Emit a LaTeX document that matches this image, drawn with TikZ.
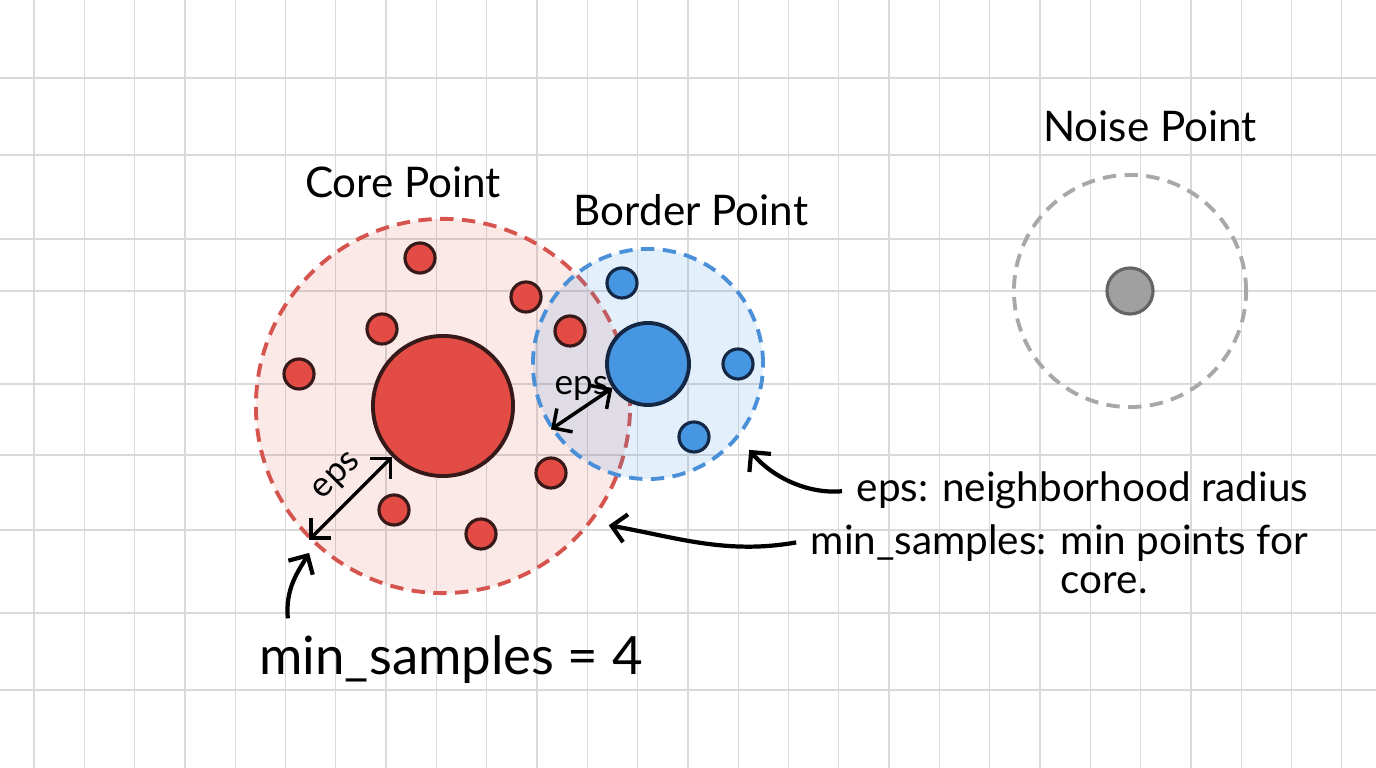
\documentclass[tikz,border=0pt]{standalone}
\usepackage{fontspec}
\setmainfont{Lato}
\usetikzlibrary{positioning,arrows.meta}

\definecolor{coreRed}{RGB}{226,76,68}
\definecolor{coreEdge}{RGB}{55,25,25}
\definecolor{coreDash}{RGB}{214,84,78}
\definecolor{borderBlue}{RGB}{70,150,225}
\definecolor{borderEdge}{RGB}{20,40,70}
\definecolor{borderDash}{RGB}{74,144,217}
\definecolor{noiseGray}{RGB}{160,160,160}
\definecolor{noiseEdge}{RGB}{100,100,100}
\definecolor{noiseDash}{RGB}{168,168,168}
\definecolor{gridGray}{RGB}{218,218,218}

\begin{document}
\begin{tikzpicture}[%
	x=0.01cm,
	y=-0.01cm,
	>={Straight Barb[length=4pt,width=8pt]},
	gridline/.style={%
		draw=gridGray,
		line width=0.35pt
	},
	region/.style={%
		circle,
		inner sep=0pt,
		line width=1.1pt,
		dash pattern=on 3.8pt off 2.4pt
	},
	pt/.style={%
		circle,
		inner sep=0pt,
		minimum size=0.3cm,
		line width=0.9pt
	},
	corept/.style={pt, fill=coreRed, draw=coreEdge},
	borderpt/.style={pt, fill=borderBlue, draw=borderEdge},
	title/.style={%
		inner sep=0pt,
		font=\fontsize{12}{14}\selectfont
	},
	note/.style={%
		inner sep=0pt,
		font=\fontsize{11.5}{11}\selectfont
	},
	epslbl/.style={%
		inner sep=1pt,
		font=\fontsize{10}{12}\selectfont
	},
	arrowline/.style={%
		line width=1pt,
		draw=black
	}
	]

	\fill[white] (0,0) rectangle (1376,768);
	\useasboundingbox (0,0) rectangle (1376,768);

	% paper grid
	\foreach \gx in {0,...,26}
		\draw[gridline] ({34+50.3*\gx},0) -- ({34+50.3*\gx},768);
	\foreach \gy in {78,155,239,291,384,455,530,613,690}
		\draw[gridline] (0,\gy) -- (1376,\gy);

	% eps neighbourhoods
	\node[region, draw=coreDash, fill=coreRed, fill opacity=0.12, minimum size=3.74cm] (coreEps) at (443,406) {};
	\node[region, draw=borderDash, fill=borderBlue, fill opacity=0.15, minimum size=2.3cm] (borderEps) at (648,364) {};
	\node[region, draw=noiseDash, minimum size=2.32cm] (noiseEps) at (1130,291) {};

	% points
	\node[corept, minimum size=1.4cm, line width=1.1pt] (core) at (443,406) {};
	\node[corept] (c1) at (420,258) {};
	\node[corept] (c2) at (526,297) {};
	\node[corept] (c3) at (382,329) {};
	\node[corept] (c4) at (299,374) {};
	\node[corept] (c5) at (570,331) {};
	\node[corept] (c6) at (551,473) {};
	\node[corept] (c7) at (394,510) {};
	\node[corept] (c8) at (481,534) {};
	\node[borderpt, minimum size=0.82cm, line width=1.1pt] (border) at (648,364) {};
	\node[borderpt] (b1) at (622,283) {};
	\node[borderpt] (b2) at (738,364) {};
	\node[borderpt] (b3) at (694,437) {};
	\node[pt, fill=noiseGray, draw=noiseEdge, minimum size=0.46cm] (noise) at (1130,291) {};

	% titles
	\node[title, above=0.18cm of coreEps, xshift=-0.4cm] (coreLbl) {Core Point};
	\node[title, above=0.2cm of borderEps, xshift=0.43cm] (borderLbl) {Border Point};
	\node[title, above=0.3cm of noiseEps, xshift=0.2cm] (noiseLbl) {Noise Point};

	% eps radii
	\draw[<->, arrowline] (coreEps.225) -- node[epslbl, sloped, above=2pt, pos=0.55] {eps} (core.225);
	\draw[<->, arrowline] (borderEps.214) -- node[epslbl, above left, pos=0.5, xshift=9pt, yshift=0.7pt] {eps} (border.214);

	% annotations
	\node[note, anchor=west] (epsNote) at (856,490) {eps: neighborhood radius};
	\node[note, anchor=north west, align=center] (minNote) at (810,524) {min\_samples: min points for\\\hspace{0.9cm}core.};
	\node[title, font=\fontsize{15}{18}\selectfont] (minLbl) at (451,660) {min\_samples = 4};

	\draw[->, arrowline, line width=1.2pt, shorten <=4pt, shorten >=0.16cm] (epsNote.west) to[out=185, in=-50] (borderEps.-39);
	\draw[->, arrowline, line width=1.2pt, shorten <=4pt, shorten >=0.17cm] (minNote.west |- minNote.north) ++(0,16) to[out=190, in=-10] (coreEps.-38);
	\draw[->, arrowline, line width=1.2pt, shorten >=0.1cm] ([xshift=0.29cm, yshift=0.17cm]minLbl.north west) to[out=95, in=240] (coreEps.227);
\end{tikzpicture}
\end{document}
